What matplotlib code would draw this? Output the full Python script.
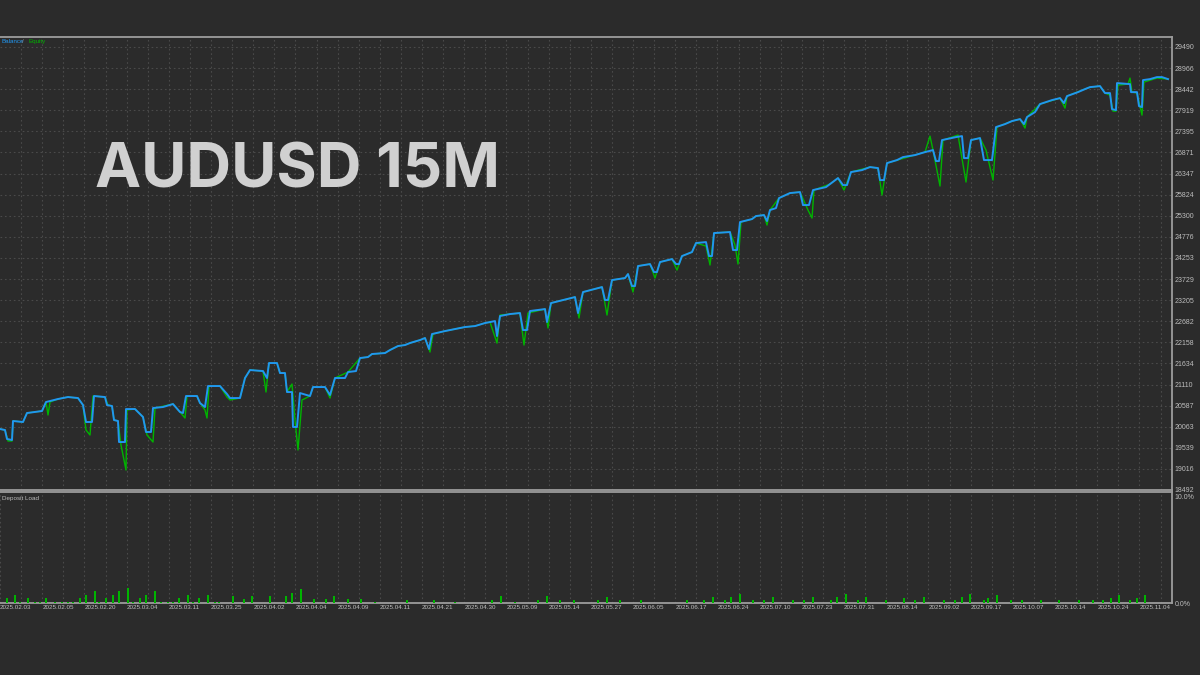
import numpy as np
import matplotlib.pyplot as plt

# balance curve (deal index, account balance)
bal_x = [0, 5, 7, 12, 13, 23, 27, 42, 46, 58, 68, 78, 83, 86, 92, 94, 105, 107, 112, 114,
         118, 119, 125, 126, 135, 138, 143, 146, 151, 153, 163, 173, 180, 183, 186, 197, 200, 205, 208, 220,
         227, 230, 240, 245, 250, 263, 267, 269, 277, 280, 285, 287, 292, 293, 297, 300, 310, 313, 325, 330,
         335, 345, 348, 356, 360, 368, 372, 385, 390, 398, 405, 410, 420, 425, 429, 432, 445, 455, 465, 475,
         485, 495, 497, 500, 510, 520, 523, 527, 530, 545, 547,
         551, 575, 578, 583,
         602, 605, 608, 612, 625, 628, 632, 635, 638, 650, 654, 657, 660, 672, 676, 679, 682, 692, 696, 706,
         709, 712, 714, 730, 733, 737, 740, 752, 756, 764, 767, 770, 776, 779, 790, 800, 803, 809, 813, 826,
         830, 838, 843, 847, 851, 862, 870, 878, 880, 884, 887, 897, 903, 915, 925, 933, 936, 939, 942, 956,
         962, 964, 968, 971, 980, 984, 992, 996, 1005, 1012, 1020, 1024, 1027, 1035, 1040, 1052, 1060, 1064, 1067, 1078,
         1085, 1090, 1100, 1105, 1110, 1112, 1116, 1117, 1130,
         1131, 1137, 1139, 1142, 1143, 1150, 1157, 1162, 1168]
bal_v = [20006, 19981, 19758, 19733, 20205, 20180, 20403, 20453, 20676, 20751, 20800, 20775, 20602, 20180, 20180, 20825, 20800, 20602, 20577, 20229,
         20205, 19683, 19683, 20502, 20502, 20428, 20304, 19932, 19932, 20527, 20552, 20626, 20428, 20403, 20825, 20825, 20651, 20552, 21073, 21073,
         20875, 20775, 20775, 21272, 21470, 21445, 21272, 21644, 21644, 21396, 21396, 20924, 20924, 20056, 20056, 20899, 20825, 21048, 21048, 20850,
         21272, 21272, 21420, 21445, 21768, 21793, 21868, 21892, 21967, 22066, 22091, 22141, 22215, 22265, 21992, 22364, 22438, 22488, 22538, 22562,
         22637, 22686, 22314, 22811, 22860, 22885, 22463, 22463, 22935, 22984, 22662,
         23133, 23282, 22885, 23406,
         23530, 23208, 23208, 23704, 23754, 23853, 23555, 23555, 24052, 24101, 23903, 23903, 24151, 24225, 24101, 24101, 24300, 24399, 24623, 24647,
         24300, 24300, 24871, 24896, 24449, 24449, 25144, 25218, 25293, 25318, 25169, 25442, 25491, 25739, 25864, 25888, 25566, 25566, 25938, 26012,
         26087, 26236, 26062, 26062, 26385, 26434, 26509, 26484, 26186, 26186, 26608, 26683, 26757, 26807, 26881, 26931, 26658, 26658, 27179, 27253,
         27278, 26732, 26732, 27179, 27229, 26683, 26683, 27502, 27576, 27651, 27700, 27576, 27750, 27874, 28073, 28172, 28221, 28097, 28271, 28370,
         28445, 28494, 28519, 28346, 28346, 27948, 27923, 28594, 28569,
         28370, 28370, 28023, 27998, 28668, 28693, 28743, 28743, 28693]

# equity curve
eq_x = [0, 5, 8, 12, 13, 23, 27, 42, 46, 48, 50, 58, 68, 78, 83, 86, 90, 93, 105, 108,
        112, 114, 118, 121, 126, 127, 135, 143, 147, 153, 155, 173, 180, 185, 187, 197, 200, 205, 207, 209,
        220, 227, 230, 240, 245, 250, 263, 266, 269, 277, 280, 285, 287, 292, 295, 298, 302, 310, 313, 325,
        330, 335, 348, 360, 368, 372, 385, 390, 398, 405, 410, 420, 425, 430, 433, 445, 455, 465, 475, 485,
        490, 497, 500, 520, 524, 528, 545, 548, 551, 575, 579, 583,
        602, 607, 612, 625, 628, 633, 638, 650, 655, 660, 672, 677, 682, 692, 696, 706, 710, 714, 730, 735,
        738, 741, 752, 756, 764, 767, 770, 779, 790, 800, 808, 812, 814, 830, 838, 844, 851, 870, 878, 882,
        887, 925, 930, 933, 940, 943, 958, 966, 971, 980, 986, 993, 997, 1012, 1020, 1025, 1027, 1040, 1060, 1065,
        1067, 1090, 1100, 1105, 1110, 1113, 1116, 1118,
        1128, 1130, 1132, 1137, 1140, 1142, 1144, 1157, 1168]
eq_v = [20006, 19981, 19708, 19708, 20205, 20180, 20403, 20453, 20676, 20354, 20676, 20751, 20800, 20775, 20602, 19981, 19857, 20825, 20800, 20602,
        20577, 20229, 20205, 19609, 18988, 20478, 20502, 20304, 19857, 19683, 20527, 20626, 20428, 20279, 20825, 20825, 20651, 20478, 20279, 21073,
        21073, 20800, 20726, 20775, 21272, 21470, 21445, 20924, 21644, 21644, 21396, 21396, 20924, 21123, 20229, 19485, 20726, 20825, 21048, 21048,
        20775, 21272, 21420, 21768, 21793, 21868, 21892, 21967, 22066, 22091, 22141, 22215, 22265, 21917, 22364, 22438, 22488, 22538, 22562, 22637,
        22662, 22140, 22835, 22885, 22091, 22885, 22984, 22513, 23133, 23282, 22761, 23406,
        23530, 22835, 23704, 23754, 23853, 23406, 24052, 24101, 23754, 24151, 24225, 23952, 24300, 24399, 24623, 24548, 24077, 24871, 24896, 24573,
        24101, 25144, 25218, 25293, 25318, 25070, 25442, 25739, 25864, 25888, 25442, 25243, 25938, 26087, 26236, 25938, 26385, 26509, 26484, 25814,
        26608, 26881, 27278, 26931, 26038, 27179, 27303, 26137, 27179, 27229, 26931, 26186, 27502, 27651, 27700, 27477, 27750, 28073, 28221, 27973,
        28271, 28494, 28519, 28346, 28296, 27898, 27898, 28544,
        28569, 28718, 28370, 28346, 28023, 27799, 28619, 28718, 28693]

# deposit load bars (deal index, percent)
load_x = [7, 15, 20, 28, 35, 40, 46, 55, 62, 68, 73, 80, 86, 95, 99, 106, 113, 119, 128, 133,
          140, 146, 155, 161, 168, 173, 179, 188, 193, 199, 208, 215, 219, 233, 244, 252, 270, 286, 292, 301,
          314, 326, 334, 348, 361, 375, 407, 434, 455, 492, 501, 515, 538, 547, 560, 574, 598, 607, 620, 641,
          687, 704, 713, 725, 731, 740, 753, 764, 773, 793, 804, 813, 831, 837, 846, 858, 866, 886, 904, 915,
          924, 944, 955, 962, 970, 984, 988, 997, 1011, 1022, 1041, 1059, 1079, 1093, 1103, 1111, 1119, 1130, 1137, 1145]
load_v = [.47, .75, .09, .47, .09, .09, .47, .09, .09, .09, .09, .47, .75, 1.13, .09, .47, .75, 1.13, 1.42, .09,
          .47, .75, 1.13, .09, .09, .09, .47, .75, .09, .47, .75, .09, .09, .66, .38, .66, .66, .66, .94, 1.32,
          .38, .38, .66, .38, .38, .09, .28, .28, .09, .28, .66, .09, .28, .66, .28, .28, .28, .57, .28, .28,
          .28, .28, .57, .28, .57, .85, .28, .28, .57, .28, .28, .57, .28, .57, .85, .28, .57, .28, .47, .28,
          .57, .28, .28, .57, .85, .28, .47, .75, .28, .28, .28, .28, .28, .28, .28, .47, .75, .28, .47, .75]

y_labels = ['18492', '19016', '19539', '20063', '20587', '21110', '21634', '22158', '22682', '23205', '23729',
            '24253', '24776', '25300', '25824', '26347', '26871', '27395', '27919', '28442', '28966', '29490']
dates = ['2025.02.03', '2025.02.05', '2025.02.20', '2025.03.04', '2025.03.11', '2025.03.25', '2025.04.02',
         '2025.04.04', '2025.04.09', '2025.04.11', '2025.04.21', '2025.04.30', '2025.05.09', '2025.05.14',
         '2025.05.27', '2025.06.05', '2025.06.17', '2025.06.24', '2025.07.10', '2025.07.23', '2025.07.31',
         '2025.08.14', '2025.09.02', '2025.09.17', '2025.10.07', '2025.10.14', '2025.10.24', '2025.11.04']

bg = '#2b2b2b'
frame = '#9c9c9c'
grid = '#4a4a4a'
txt = '#bdbdbd'
blue = '#2196f0'
green = '#00b400'
step = 21.1  # deals between vertical grid lines
xmax = 1172

fig = plt.figure(figsize=(12, 6.75), dpi=100, facecolor=bg)
ax = fig.add_axes([0, 1 - 490 / 675, 1172 / 1200, 453 / 675], facecolor=bg)
ax2 = fig.add_axes([0, 1 - 603 / 675, 1172 / 1200, 111 / 675], facecolor=bg)

yt = [int(s) for s in y_labels]
ax.plot(eq_x, eq_v, color=green, lw=1.0, zorder=3)
ax.plot(bal_x, bal_v, color=blue, lw=1.4, zorder=4)
ax.set_xlim(0, xmax)
ax.set_ylim(yt[0], yt[0] + (yt[-1] - yt[0]) * 453 / 443)
ax.yaxis.tick_right()
ax.set_yticks(yt)
ax.set_yticklabels(y_labels)
ax.set_xticks(np.arange(step, xmax, step))
ax.tick_params(axis='x', length=0, labelbottom=False)
ax.tick_params(axis='y', length=0, pad=2, labelsize=5, labelcolor=txt)
for lab in ax.get_yticklabels():
    lab.set_family('Liberation Sans')
ax.grid(True, color=grid, ls=(0, (1.5, 2.5)), lw=0.8)
ax.spines['left'].set_visible(False)
for s in ['top', 'right', 'bottom']:
    ax.spines[s].set_color(frame)
    ax.spines[s].set_linewidth(1.3)

ax.text(2 / xmax, 0.989, 'Balance', color=blue, fontsize=4.5, family='Liberation Sans',
        transform=ax.transAxes, va='center')
ax.text(22 / xmax, 0.989, '/', color='#888888', fontsize=4.5, family='Liberation Sans',
        transform=ax.transAxes, va='center')
ax.text(28 / xmax, 0.989, 'Equity', color=green, fontsize=4.5, family='Liberation Sans',
        transform=ax.transAxes, va='center')

ax.text(95, (490 - 187) / 453, 'AUDUSD 15M', color='#d0d0d0', fontsize=44.5, fontweight='bold',
        family='Inter', transform=ax.get_xaxis_transform(), va='baseline', ha='left')

# deposit load panel
ax2.bar(load_x, load_v, width=1.6, color=green, zorder=3)
ax2.set_xlim(0, xmax)
ax2.set_ylim(0, 10.45)
ax2.yaxis.tick_right()
ax2.set_yticks([0, 10])
ax2.set_yticklabels(['0.0%', '10.0%'])
ax2.tick_params(axis='y', length=0, pad=2, labelsize=5, labelcolor=txt)
for lab in ax2.get_yticklabels():
    lab.set_family('Liberation Sans')
ax2.set_xticks(np.arange(step, xmax, step), minor=True)
ax2.set_xticks(np.arange(len(dates)) * 2 * step)
ax2.set_xticklabels(dates, ha='left', family='Liberation Sans')
ax2.tick_params(axis='x', which='both', length=0, pad=1.5, labelsize=4.5, labelcolor=txt)
ax2.grid(True, axis='x', which='both', color=grid, ls=(0, (1.5, 2.5)), lw=0.8)
ax2.spines['left'].set_visible(False)
for s in ['top', 'right', 'bottom']:
    ax2.spines[s].set_color(frame)
    ax2.spines[s].set_linewidth(1.3)
ax2.text(2 / xmax, 0.94, 'Deposit Load', color=txt, fontsize=4.5, family='Liberation Sans',
         transform=ax2.transAxes, va='center')

fig.savefig('out.png', dpi=100, facecolor=bg)
